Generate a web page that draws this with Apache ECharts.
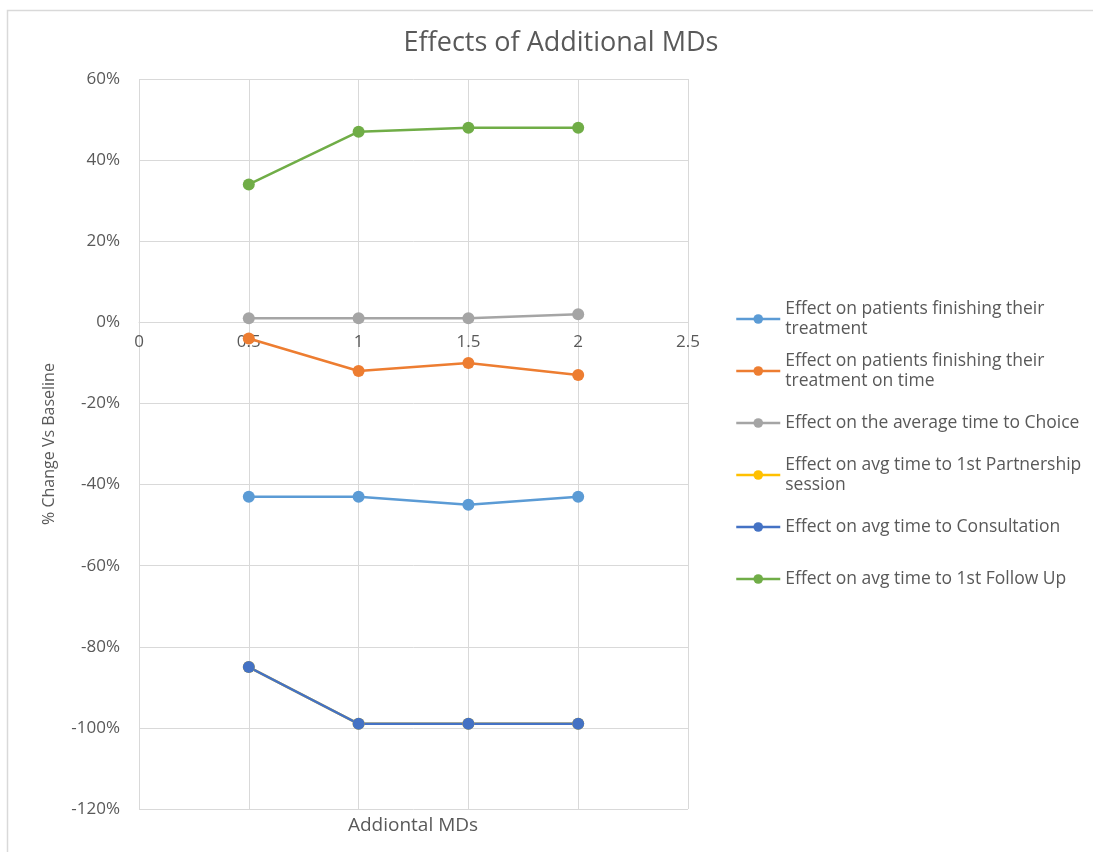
<!DOCTYPE html>
<html>
<head>
<meta charset="utf-8">
<title>Effects of Additional MDs</title>
<script src="https://cdn.jsdelivr.net/npm/echarts@6/dist/echarts.min.js"></script>
<style>
  html, body { margin: 0; padding: 0; background: #fff; }
  #chart { width: 1093px; height: 852px; }
</style>
</head>
<body>
<div id="chart"></div>
<script>
// Additional MDs (x values)
const addedMDs = [0.5, 1, 1.5, 2];

// Series names (each split into the lines shown in the legend)
const seriesNames = [
  ['Effect on patients finishing their', 'treatment'],
  ['Effect on patients finishing their', 'treatment on time'],
  ['Effect on the average time to Choice'],
  ['Effect on avg time to 1st Partnership', 'session'],
  ['Effect on avg time to Consultation'],
  ['Effect on avg time to 1st Follow Up']
];

// % change vs baseline, per series
const finishingTreatment = [-43, -43, -45, -43];
const finishingOnTime = [-4, -12, -10, -13];
const timeToChoice = [1, 1, 1, 2];
const timeToPartnership = [-85, -99, -99, -99];
const timeToConsultation = [-85, -99, -99, -99];
const timeToFollowUp = [34, 47, 48, 48];

const seriesValues = [
  finishingTreatment, finishingOnTime, timeToChoice,
  timeToPartnership, timeToConsultation, timeToFollowUp
];
const seriesColors = ['#5B9BD5', '#ED7D31', '#A5A5A5', '#FFC000', '#4472C4', '#70AD47'];

// Axis ticks
const xMin = 0, xMax = 2.5, xStep = 0.5;
const yMin = -120, yMax = 60, yStep = 20;

const font = 'Open Sans, Lato, sans-serif';
const textColor = '#595959';
const gridColor = '#D9D9D9';

// Plot area
const gridTop = 79, gridBottom = 43, chartHeight = 852;
const plotHeight = chartHeight - gridTop - gridBottom;
// Lift the x axis from the bottom edge up to the 0% line
const zeroOffset = -plotHeight * (0 - yMin) / (yMax - yMin);

const names = seriesNames.map(function (lines) { return lines.join(' '); });

const chart = echarts.init(document.getElementById('chart'), null, { renderer: 'canvas' });

chart.setOption({
  backgroundColor: '#ffffff',
  animation: false,
  title: {
    text: 'Effects of Additional MDs',
    left: 556,
    top: 25,
    textAlign: 'center',
    textStyle: { fontFamily: font, fontSize: 27, fontWeight: 'normal', color: textColor }
  },
  graphic: [{
    type: 'rect',
    shape: { x: 7.5, y: 10.5, width: 1200, height: 1000 },
    style: { fill: null, stroke: '#D9D9D9', lineWidth: 1.5 },
    silent: true,
    z: -1
  }, {
    // x-axis title, under the plot area
    type: 'text',
    x: 413,
    y: 826,
    style: {
      text: 'Addiontal MDs',
      fontFamily: font, fontSize: 19, fill: textColor,
      textAlign: 'center', textVerticalAlign: 'middle'
    },
    silent: true
  }],
  grid: { left: 139, right: 405, top: gridTop, bottom: gridBottom, containLabel: false },
  legend: {
    orient: 'vertical',
    left: 735,
    top: 289,
    padding: 0,
    itemGap: -8,
    itemWidth: 44,
    itemHeight: 12,
    lineStyle: { width: 2.5 },
    data: seriesNames.map(function (lines, i) {
      return {
        name: names[i],
        textStyle: { padding: lines.length > 1 ? [20, 0, 0, 0] : [20, 0, 20, 0] }
      };
    }),
    formatter: function (name) {
      return seriesNames[names.indexOf(name)].join('\n');
    },
    textStyle: { fontFamily: font, fontSize: 17.5, color: textColor, lineHeight: 20 }
  },
  xAxis: {
    type: 'value',
    min: xMin,
    max: xMax,
    interval: xStep,
    position: 'bottom',
    offset: zeroOffset,
    axisLine: { onZero: false, lineStyle: { color: gridColor, width: 1 } },
    axisTick: { show: false },
    axisLabel: { fontFamily: font, fontSize: 17, color: textColor, margin: 11 },
    splitLine: { show: true, lineStyle: { color: gridColor, width: 1 } }
  },
  yAxis: {
    type: 'value',
    min: yMin,
    max: yMax,
    interval: yStep,
    name: '% Change Vs Baseline',
    nameLocation: 'middle',
    nameGap: 82,
    nameRotate: 90,
    nameTextStyle: { fontFamily: font, fontSize: 16, color: textColor },
    axisLine: { show: false },
    axisTick: { show: false },
    axisLabel: {
      fontFamily: font, fontSize: 17, color: textColor, margin: 19,
      formatter: function (v) { return v + '%'; }
    },
    splitLine: { show: true, lineStyle: { color: gridColor, width: 1 } }
  },
  series: seriesValues.map(function (vals, i) {
    return {
      name: names[i],
      type: 'line',
      data: addedMDs.map(function (x, j) { return [x, vals[j]]; }),
      color: seriesColors[i],
      symbol: 'circle',
      symbolSize: 12,
      lineStyle: { width: 2.5, color: seriesColors[i] },
      itemStyle: { color: seriesColors[i] },
      emphasis: { disabled: true }
    };
  })
});
</script>
</body>
</html>
